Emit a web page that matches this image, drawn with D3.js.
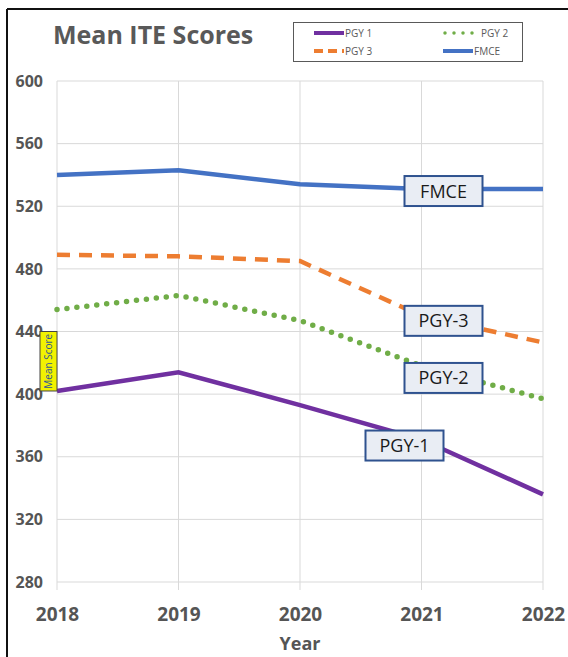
<!DOCTYPE html>
<html>
<head>
<meta charset="utf-8">
<script src="https://cdn.jsdelivr.net/npm/d3@7"></script>
<style>
  body { margin: 0; background: #fff; }
  text { font-family: "Open Sans", "Noto Sans", sans-serif; }
</style>
</head>
<body>
<div id="chart"></div>
<script>
// data
var years = [2018, 2019, 2020, 2021, 2022];
var pgy1 = [402, 414, 393, 371, 336];
var pgy2 = [454, 463, 447, 418, 397];
var pgy3 = [489, 488, 485, 450, 433];
var fmce = [540, 543, 534, 531, 531];
var yTicks = [280, 320, 360, 400, 440, 480, 520, 560, 600];

var series = [
  { name: "PGY 1", label: "PGY-1", values: pgy1, color: "#7030a0", dash: null, dx: -17, dy: 6 },
  { name: "PGY 2", label: "PGY-2", values: pgy2, color: "#70ad47", dash: "0 10", dx: 22, dy: 12 },
  { name: "PGY 3", label: "PGY-3", values: pgy3, color: "#ed7d31", dash: "13 9", dx: 22, dy: 5 },
  { name: "FMCE", label: "FMCE", values: fmce, color: "#4472c4", dash: null, dx: 22, dy: 2 }
];
var labelYear = 3;

var W = 568, H = 657;
var svg = d3.select("#chart").append("svg")
  .attr("width", W).attr("height", H);

// outer frame (top + left edges)
svg.append("line").attr("x1", 7).attr("x2", W).attr("y1", 9).attr("y2", 9)
  .attr("stroke", "#111").attr("stroke-width", 2);
svg.append("line").attr("x1", 7).attr("x2", 7).attr("y1", 9).attr("y2", H)
  .attr("stroke", "#111").attr("stroke-width", 2);

var x = d3.scaleLinear().domain([2018, 2022]).range([57, 543]);
var y = d3.scaleLinear().domain([280, 600]).range([582, 81]);

// gridlines
var grid = svg.append("g");
grid.selectAll(".hg").data(yTicks).enter().append("line")
  .attr("x1", x(2018)).attr("x2", x(2022))
  .attr("y1", d => y(d)).attr("y2", d => y(d))
  .attr("stroke", "#d9d9d9").attr("stroke-width", 1);
grid.selectAll(".vg").data(years).enter().append("line")
  .attr("x1", d => x(d)).attr("x2", d => x(d))
  .attr("y1", y(600)).attr("y2", y(280) + 8)
  .attr("stroke", "#d9d9d9").attr("stroke-width", 1);

// y axis labels
var yAxis = svg.append("g").attr("transform", "translate(43,0)")
  .call(d3.axisLeft(y).tickValues(yTicks).tickSize(0).tickPadding(0));
yAxis.select(".domain").remove();
yAxis.selectAll("text")
  .attr("fill", "#555").attr("font-size", 16).attr("font-weight", "bold")
  .attr("font-family", "'Open Sans', sans-serif");

// x axis labels
var xAxis = svg.append("g").attr("transform", "translate(0," + (y(280) + 25) + ")")
  .call(d3.axisBottom(x).tickValues(years).tickFormat(d3.format("d")).tickSize(0).tickPadding(0));
xAxis.select(".domain").remove();
xAxis.selectAll("text")
  .attr("fill", "#555").attr("font-size", 19).attr("font-weight", "bold")
  .attr("font-family", "'Open Sans', sans-serif");

svg.append("text").attr("x", x(2020)).attr("y", 650)
  .attr("text-anchor", "middle").attr("fill", "#555")
  .attr("font-size", 18).attr("font-weight", "bold").text("Year");

// lines
var line = d3.line()
  .x((d, i) => x(years[i]))
  .y(d => y(d));

series.forEach(function(s) {
  svg.append("path")
    .datum(s.values)
    .attr("fill", "none")
    .attr("stroke", s.color)
    .attr("stroke-width", s.dash === "0 10" ? 5.5 : 4.5)
    .attr("stroke-linecap", s.dash === "0 10" ? "round" : "butt")
    .attr("stroke-dasharray", s.dash)
    .attr("d", line);
});

// data labels (boxes)
series.forEach(function(s) {
  var cx = x(years[labelYear]) + s.dx;
  var cy = y(s.values[labelYear]) + s.dy;
  var g = svg.append("g").attr("transform", "translate(" + cx + "," + cy + ")");
  g.append("rect").attr("x", -39).attr("y", -15).attr("width", 78).attr("height", 30)
    .attr("fill", "#e9edf4").attr("stroke", "#2f528f").attr("stroke-width", 2);
  g.append("text").attr("text-anchor", "middle").attr("dy", "0.36em")
    .attr("font-size", 18).attr("fill", "#1a1a1a").text(s.label);
});

// "Mean Score" tag on the y axis
var tag = svg.append("g");
tag.append("rect").attr("x", 40).attr("y", y(440)).attr("width", 17).attr("height", y(402) - y(440))
  .attr("fill", "#f2f200").attr("stroke", "#444").attr("stroke-width", 1);
tag.append("text")
  .attr("transform", "translate(52," + ((y(440) + y(402)) / 2) + ") rotate(-90)")
  .attr("text-anchor", "middle").attr("font-size", 10).attr("fill", "#2f5597")
  .text("Mean Score");

// title
svg.append("text").attr("x", 53).attr("y", 44)
  .attr("fill", "#595959").attr("font-size", 25).attr("font-weight", "bold")
  .text("Mean ITE Scores");

// legend
var leg = svg.append("g");
leg.append("rect").attr("x", 293.5).attr("y", 22.5).attr("width", 229).attr("height", 39)
  .attr("fill", "#fff").attr("stroke", "#595959").attr("stroke-width", 1);
var legPos = [
  { x: 314, y: 33 }, { x: 443, y: 33 }, { x: 314, y: 51 }, { x: 443, y: 51 }
];
series.forEach(function(s, i) {
  var p = legPos[i];
  var len = 30;
  var dotted = s.dash === "0 10";
  leg.append("line").attr("x1", p.x + (dotted ? 2 : 0)).attr("x2", p.x + len).attr("y1", p.y).attr("y2", p.y)
    .attr("stroke", s.color)
    .attr("stroke-width", dotted ? 3.5 : 4)
    .attr("stroke-linecap", dotted ? "round" : "butt")
    .attr("stroke-dasharray", dotted ? "0 9" : (s.dash ? "9 5" : null));
  leg.append("text").attr("x", p.x + len + (i === 1 ? 8 : 1)).attr("y", p.y).attr("dy", "0.35em")
    .attr("font-size", 10).attr("fill", "#595959").text(s.name);
});
</script>
</body>
</html>
